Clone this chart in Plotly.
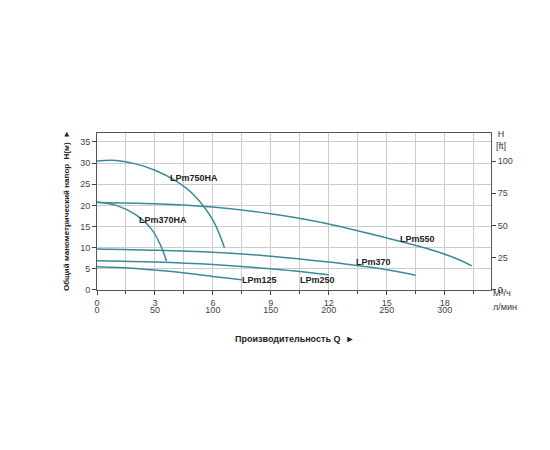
import plotly.graph_objects as go

# Q in m3/h, H in m
Q_750HA = [0, 1, 2, 3, 4, 5, 6, 6.6]
H_750HA = [30.5, 30.6, 29.8, 28.3, 26.0, 22.5, 16.5, 10.0]
Q_370HA = [0, 1, 2, 2.8, 3.3, 3.6]
H_370HA = [20.8, 20.0, 17.8, 14.5, 10.5, 6.8]
Q_550 = [0, 3, 6, 9, 12, 15, 17, 18.5, 19.4]
H_550 = [20.7, 20.4, 19.6, 18.0, 15.6, 12.3, 9.9, 7.6, 5.7]
Q_370 = [0, 3, 6, 9, 12, 15, 16.5]
H_370 = [9.7, 9.4, 8.9, 8.0, 6.6, 4.8, 3.5]
Q_250 = [0, 3, 6, 9, 12]
H_250 = [6.9, 6.6, 6.0, 5.0, 3.6]
Q_125 = [0, 2, 4, 6, 7.5]
H_125 = [5.5, 5.1, 4.3, 3.2, 2.4]

labels = ['LPm750HA', 'LPm370HA', 'LPm550', 'LPm370', 'LPm250', 'LPm125']
label_q = [5.0, 3.4, 16.6, 14.3, 11.4, 8.4]
label_h = [26.5, 16.5, 12.0, 6.6, 2.4, 2.4]

X_MAX = 20.4
Y_MAX = 37.1
LINE = '#3b8a98'
FONT = 'Liberation Sans'

fig = go.Figure()
for q, h in [(Q_750HA, H_750HA), (Q_370HA, H_370HA), (Q_550, H_550),
             (Q_370, H_370), (Q_250, H_250), (Q_125, H_125)]:
    fig.add_trace(go.Scatter(x=q, y=h, mode='lines', line=dict(color=LINE, width=1.5, shape='spline'),
                             showlegend=False, hoverinfo='skip'))

# invisible traces for the secondary axes
fig.add_trace(go.Scatter(x=[0], y=[0], xaxis='x2', yaxis='y', mode='markers', opacity=0, showlegend=False))
fig.add_trace(go.Scatter(x=[0], y=[0], xaxis='x', yaxis='y2', mode='markers', opacity=0, showlegend=False))

for t, q, h in zip(labels, label_q, label_h):
    fig.add_annotation(x=q, y=h, text='<b>' + t + '</b>', showarrow=False, font=dict(size=9, color='#222'))

fig.add_annotation(xref='paper', yref='paper', x=1.0, y=0.143, text='M³/ч', showarrow=False,
                   xanchor='left', font=dict(size=9, color='#333'))
fig.add_annotation(xref='paper', yref='paper', x=1.0, y=0.072, text='л/мин', showarrow=False,
                   xanchor='left', font=dict(size=9, color='#333'))
fig.add_annotation(xref='paper', yref='paper', x=1.025, y=1.03, text='H<br>[ft]', showarrow=False,
                   xanchor='center', yanchor='top', font=dict(size=9, color='#333'))
fig.add_annotation(xref='paper', yref='paper', x=0.5, y=-0.02, text='<b>Производительность Q  ►</b>',
                   showarrow=False, yanchor='top', font=dict(size=9, color='#222'))
fig.add_annotation(xref='paper', yref='paper', x=-0.095, y=0.6, text='<b>Общий манометрический напор  H(м)  ►</b>',
                   showarrow=False, textangle=-90, font=dict(size=8, color='#222'))

axis_font = dict(size=9, color='#444')
fig.update_layout(
    width=550, height=450,
    margin=dict(l=89, r=67, t=125, b=130),
    plot_bgcolor='white', paper_bgcolor='white',
    font=dict(family=FONT),
    xaxis=dict(range=[0, X_MAX], tickvals=[0, 3, 6, 9, 12, 15, 18], showgrid=False, automargin=False,
               ticks='outside', ticklen=4, tickfont=axis_font, zeroline=False,
               showline=True, linecolor='#555', mirror=True,
               minor=dict(dtick=1.5, showgrid=True, gridcolor='#ccc', ticks='outside', ticklen=3)),
    xaxis2=dict(range=[0, X_MAX * 1000 / 60], overlaying='x', anchor='free', position=0.13,
                tickvals=[0, 50, 100, 150, 200, 250, 300], showgrid=False, showline=False, automargin=False,
                zeroline=False, tickfont=axis_font, side='bottom'),
    yaxis=dict(domain=[0.195, 1], range=[0, Y_MAX], dtick=5, gridcolor='#ccc', ticks='outside',
               ticklen=4, tickfont=axis_font, zeroline=False, showline=True, linecolor='#555',
               mirror=True, automargin=False),
    yaxis2=dict(domain=[0.195, 1], overlaying='y', side='right', range=[0, Y_MAX * 3.2808],
                tickvals=[0, 25, 50, 75, 100], showgrid=False, ticks='outside', ticklen=4,
                tickfont=axis_font, zeroline=False, automargin=False),
)

fig.write_html("out.html")
